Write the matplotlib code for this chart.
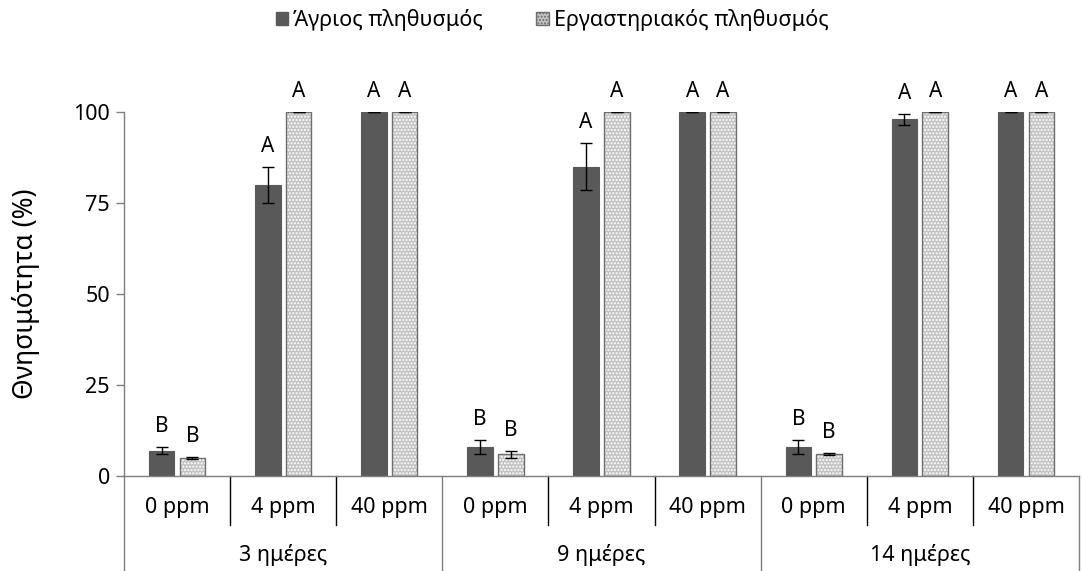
import matplotlib
matplotlib.use("Agg")
import matplotlib.pyplot as plt
import matplotlib.transforms as mtransforms
from matplotlib.patches import Patch
import numpy as np

plt.rcParams['font.family'] = ['Noto Sans', 'DejaVu Sans']
plt.rcParams['hatch.linewidth'] = 1.0

# Data
days = ["3 ημέρες", "9 ημέρες", "14 ημέρες"]
doses = ["0 ppm", "4 ppm", "40 ppm"]
series_names = ["Άγριος πληθυσμός", "Εργαστηριακός πληθυσμός"]

wild_mean = [7, 80, 100, 8, 85, 100, 8, 98, 100]
wild_err = [1, 5, 0, 2, 6.5, 0, 2, 1.5, 0]
lab_mean = [5, 100, 100, 6, 100, 100, 6, 100, 100]
lab_err = [0.3, 0, 0, 1, 0, 0, 0.3, 0, 0]
wild_letters = ["B", "A", "A", "B", "A", "A", "B", "A", "A"]
lab_letters = ["B", "A", "A", "B", "A", "A", "B", "A", "A"]

W, H = 1083, 571
fig = plt.figure(figsize=(W / 100, H / 100), dpi=100)
ax = fig.add_axes([124 / W, 1 - 476 / H, (1079 - 124) / W, (476 - 112) / H])

n = len(wild_mean)
x = np.arange(n)
bw = 0.24
off = 0.145

dark = '#595959'
dot_face = '#c4c4c4'
dot_edge = '#6e6e6e'

ax.bar(x - off, wild_mean, bw, color=dark, edgecolor=dark, linewidth=0.8, zorder=2)
# dotted fill: light dots over a grey face, then the outline on top
ax.bar(x + off, lab_mean, bw, color=dot_face, edgecolor='white', linewidth=0,
       hatch='.....', zorder=2)
ax.bar(x + off, lab_mean, bw, fill=False, edgecolor=dot_edge, linewidth=1.0, zorder=2)

ax.errorbar(x - off, wild_mean, yerr=wild_err, fmt='none', ecolor='black',
            elinewidth=1.0, capsize=4.5, capthick=1.0, zorder=3)
ax.errorbar(x + off, lab_mean, yerr=lab_err, fmt='none', ecolor='black',
            elinewidth=1.0, capsize=4.5, capthick=1.0, zorder=3)

# Significance letters
for xi, m, e, t in zip(x - off, wild_mean, wild_err, wild_letters):
    ax.annotate(t, (xi, m + e), xytext=(0, 7), textcoords='offset points',
                ha='center', va='bottom', fontsize=15, annotation_clip=False)
for xi, m, e, t in zip(x + off, lab_mean, lab_err, lab_letters):
    ax.annotate(t, (xi, m + e), xytext=(0, 7), textcoords='offset points',
                ha='center', va='bottom', fontsize=15, annotation_clip=False)

ax.set_xlim(-0.5, n - 0.5)
ax.set_ylim(0, 100)
ax.set_yticks([0, 25, 50, 75, 100])
ax.tick_params(axis='y', length=6, width=1, color='#7f7f7f', labelsize=15.5, pad=4)
ax.set_xticks([])
for s in ['top', 'right']:
    ax.spines[s].set_visible(False)
for s in ['left', 'bottom']:
    ax.spines[s].set_color('#7f7f7f')
    ax.spines[s].set_linewidth(1.0)

ax.set_ylabel("Θνησιμότητα (%)", fontsize=19)
ax.yaxis.set_label_coords(-84 / (1079 - 124), 0.5)

# Two-level category axis
trans = mtransforms.blended_transform_factory(ax.transData, ax.transAxes)
axh = 476 - 112
minor_y = -49 / axh
major_y = -95 / axh
for b in np.arange(-0.5, n, 1.0):
    major = int(round(b + 0.5)) % 3 == 0
    y1 = major_y if major else minor_y
    ax.plot([b, b], [0, y1], transform=trans, color='#7f7f7f' if major else 'black',
            lw=1.0, clip_on=False)
for i in range(n):
    ax.text(i, -31 / axh, doses[i % 3], transform=trans, ha='center', va='center',
            fontsize=15.5)
for g, d in enumerate(days):
    ax.text(3 * g + 1, -79 / axh, d, transform=trans, ha='center', va='center',
            fontsize=15.5)

handles = [Patch(facecolor=dark, edgecolor=dark),
           Patch(facecolor=dot_face, edgecolor=dot_edge, hatch='.....')]
fig.legend(handles, series_names, loc='center', bbox_to_anchor=(552 / W, 1 - 20 / H),
           ncol=2, frameon=False, fontsize=15.5, handlelength=0.6, handleheight=0.6,
           handletextpad=0.2, columnspacing=2.5)

fig.savefig("out.png", dpi=100)
